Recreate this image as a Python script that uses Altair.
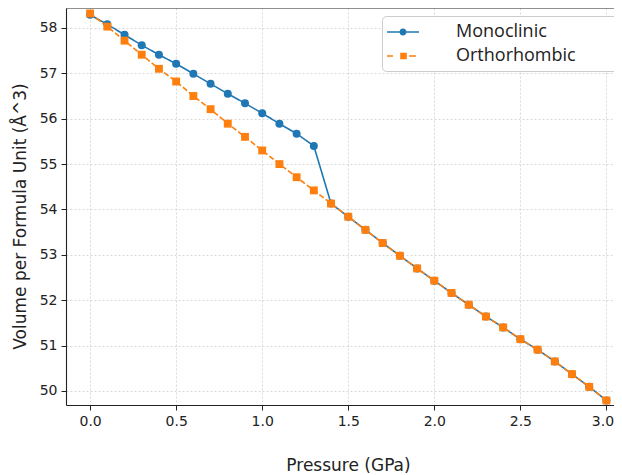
import altair as alt
import pandas as pd

pressure = [0.0, 0.1, 0.2, 0.3, 0.4, 0.5, 0.6, 0.7, 0.8, 0.9, 1.0,
            1.1, 1.2, 1.3, 1.4, 1.5, 1.6, 1.7, 1.8, 1.9, 2.0,
            2.1, 2.2, 2.3, 2.4, 2.5, 2.6, 2.7, 2.8, 2.9, 3.0]
monoclinic = [58.29, 58.08, 57.85, 57.62, 57.41, 57.21, 56.99, 56.77, 56.55, 56.34, 56.12,
              55.89, 55.67, 55.40, 54.13, 53.84, 53.55, 53.26, 52.98, 52.70, 52.43,
              52.16, 51.90, 51.64, 51.40, 51.14, 50.91, 50.65, 50.37, 50.09, 49.79]
orthorhombic = [58.32, 58.03, 57.72, 57.41, 57.10, 56.82, 56.50, 56.21, 55.89, 55.60, 55.30,
                55.00, 54.71, 54.42, 54.13, 53.84, 53.55, 53.26, 52.98, 52.70, 52.43,
                52.16, 51.90, 51.64, 51.40, 51.14, 50.91, 50.65, 50.37, 50.09, 49.79]
series_names = ["Monoclinic", "Orthorhombic"]
series_colors = ["#1f77b4", "#ff7f0e"]
x_ticks = [0.0, 0.5, 1.0, 1.5, 2.0, 2.5, 3.0]
y_ticks = [50, 51, 52, 53, 54, 55, 56, 57, 58]

rows = []
for name, vals in zip(series_names, [monoclinic, orthorhombic]):
    for p, v in zip(pressure, vals):
        rows.append({"Pressure": p, "Volume": v, "Phase": name})
df = pd.DataFrame(rows)

W, H = 548, 397
xscale = alt.Scale(domain=[-0.14, 3.044], nice=False, zero=False)
yscale = alt.Scale(domain=[49.69, 58.44], nice=False, zero=False)
cscale = alt.Scale(domain=series_names, range=series_colors)

FONT = "DejaVu Sans"

x_axis = alt.Axis(values=x_ticks, format=".1f", title="Pressure (GPa)",
                  titleX=282, titleY=65, titleBaseline="alphabetic", titleAlign="center",
                  labelOffset={"condition": {"test": "datum.value >= 3", "value": -4}, "value": 0})
y_axis = alt.Axis(values=y_ticks, format="d", title="Volume per Formula Unit (Å^3)",
                  titleX=-37, titleY=208, titleAlign="center", titleBaseline="bottom")

X = alt.X("Pressure:Q", scale=xscale, axis=x_axis)
Y = alt.Y("Volume:Q", scale=yscale, axis=y_axis)

base = alt.Chart(df)

lines = base.mark_line(strokeWidth=1.6).encode(
    x=X, y=Y,
    color=alt.Color("Phase:N", scale=cscale, legend=None),
    strokeDash=alt.StrokeDash("Phase:N", scale=alt.Scale(domain=series_names, range=[[1, 0], [5.5, 2.4]]), legend=None),
)

points = base.mark_point(filled=True, opacity=1, strokeWidth=0).encode(
    x=X, y=Y,
    color=alt.Color("Phase:N", scale=cscale, legend=None),
    shape=alt.Shape("Phase:N", scale=alt.Scale(domain=series_names, range=["circle", "square"]), legend=None),
    size=alt.Size("Phase:N", scale=alt.Scale(domain=series_names, range=[64, 62]), legend=None),
)

# legend glyphs: line + marker; a zero-area tail widens the legend box past the edge
tail = " M60,0L60,0.001L60,0Z"
sym_mono = ("M-1.1,-0.075H2.1V0.075H-1.1Z "
            "M0.85,0A0.35,0.35 0 1,1 0.15,0A0.35,0.35 0 1,1 0.85,0Z" + tail)
sym_ortho = ("M-1.1,-0.075H-0.5V0.075H-1.1Z "
             "M0.22,-0.33H0.88V0.33H0.22Z "
             "M1.1,-0.075H1.8V0.075H1.1Z" + tail)

leg = alt.Legend(title=None, orient="none", legendX=316, legendY=8,
                 symbolSize=400, symbolStrokeWidth=0, symbolOpacity=1,
                 labelFont="Open Sans", labelFontSize=18, labelColor="#222222",
                 labelOffset=48, rowPadding=5, padding=6,
                 strokeColor="#cccccc", fillColor="white", cornerRadius=4,
                 labelLimit=400)

legend_layer = base.transform_filter("datum.Pressure < -10").mark_point(
    filled=True, opacity=1, size=400, strokeWidth=0).encode(
    x=X, y=Y,
    color=alt.Color("Phase:N", scale=cscale, legend=leg),
    shape=alt.Shape("Phase:N", scale=alt.Scale(domain=series_names, range=[sym_mono, sym_ortho]), legend=leg),
)

top_spine = alt.Chart(alt.Data(values=[{}])).mark_rule(color="#222222", strokeWidth=1.1).encode(
    x=alt.value(0), x2=alt.value(W), y=alt.value(0)
)

chart = alt.layer(lines, points, legend_layer, top_spine).resolve_scale(
    color="independent", shape="independent", size="independent"
).properties(
    width=W, height=H,
    autosize=alt.AutoSizeParams(type="none"),
    padding={"left": 58, "top": 0, "right": 0, "bottom": 70},
).configure_view(stroke=None).configure_axis(
    domainColor="#222222", domainWidth=1.1,
    tickColor="#222222", tickSize=5, tickWidth=1,
    labelFont=FONT, labelFontSize=14, labelColor="#222222", labelPadding=4,
    titleFont=FONT, titleFontSize=17, titleFontWeight="normal", titleColor="#222222",
    grid=True, gridColor="#cfcfcf", gridDash=[2, 2], gridWidth=0.8,
)

chart.save("out.html", embed_options={"renderer": "svg", "actions": False})
